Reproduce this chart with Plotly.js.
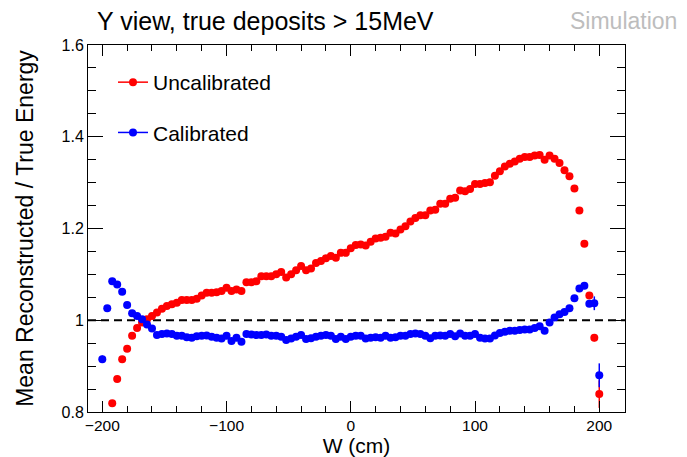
<!DOCTYPE html>
<html>
<head>
<meta charset="utf-8">
<script src="https://cdn.plot.ly/plotly-3.0.1.min.js"></script>
<style>html,body{margin:0;padding:0;background:#fff;}#chart{width:687px;height:457px;}</style>
</head>
<body>
<div id="chart"></div>
<script>
// Bin centres along W (cm)
const wBins = [
  -200,-196,-192,-188,-184,-180,-176,-172,-168,-164,
  -160,-156,-152,-148,-144,-140,-136,-132,-128,-124,
  -120,-116,-112,-108,-104,-100,-96,-92,-88,-84,
  -80,-76,-72,-68,-64,-60,-56,-52,-48,-44,
  -40,-36,-32,-28,-24,-20,-16,-12,-8,-4,
  0,4,8,12,16,20,24,28,32,36,
  40,44,48,52,56,60,64,68,72,76,
  80,84,88,92,96,100,104,108,112,116,
  120,124,128,132,136,140,144,148,152,156,
  160,164,168,172,176,180,184,188,192,196,
  200
];

// Mean reconstructed / true energy, uncalibrated
const uncalibrated = [
  null,null,0.819,0.872,0.915,0.938,0.966,0.983,0.995,1.002,
  1.009,1.017,1.025,1.031,1.035,1.038,1.044,1.044,1.044,1.047,
  1.054,1.060,1.060,1.061,1.064,1.071,1.064,1.067,1.064,1.083,
  1.083,1.085,1.096,1.096,1.096,1.100,1.105,1.093,1.100,1.109,
  1.118,1.109,1.113,1.125,1.129,1.135,1.140,1.136,1.147,1.147,
  1.157,1.164,1.165,1.163,1.171,1.178,1.180,1.182,1.191,1.189,
  1.198,1.205,1.215,1.223,1.229,1.229,1.239,1.241,1.254,1.254,
  1.265,1.267,1.283,1.281,1.286,1.297,1.297,1.299,1.301,1.315,
  1.325,1.335,1.341,1.346,1.352,1.356,1.356,1.359,1.360,1.350,
  1.359,1.352,1.343,1.327,1.314,1.287,1.239,1.167,1.054,0.962,
  0.839
];
const uncalibratedErr = [
  0,0,0,0,0,0,0,0,0,0,
  0,0,0,0,0,0,0,0,0,0,
  0,0,0,0,0,0,0,0,0,0,
  0,0,0,0,0,0,0,0,0,0,
  0,0,0,0,0,0,0,0,0,0,
  0,0,0,0,0,0,0,0,0,0,
  0,0,0,0,0,0,0,0,0,0,
  0,0,0,0,0,0,0,0,0,0,
  0,0,0,0,0,0,0,0,0,0,
  0,0,0,0,0,0,0,0,0.006,0.008,
  0.03
];

// Mean reconstructed / true energy, calibrated
const calibrated = [
  0.915,1.026,1.085,1.078,1.062,1.033,1.015,1.009,1.002,0.991,
  0.982,0.968,0.970,0.971,0.970,0.966,0.966,0.963,0.962,0.965,
  0.966,0.967,0.964,0.962,0.960,0.966,0.955,0.962,0.953,0.970,
  0.969,0.968,0.968,0.969,0.966,0.966,0.964,0.957,0.960,0.964,
  0.968,0.959,0.961,0.964,0.966,0.968,0.966,0.959,0.964,0.959,
  0.964,0.966,0.966,0.960,0.962,0.963,0.962,0.966,0.962,0.963,
  0.966,0.966,0.970,0.971,0.970,0.966,0.961,0.966,0.967,0.966,
  0.970,0.965,0.971,0.966,0.966,0.970,0.962,0.960,0.960,0.967,
  0.972,0.975,0.977,0.977,0.979,0.980,0.980,0.983,0.987,0.977,
  0.995,1.006,1.013,1.018,1.026,1.048,1.069,1.075,1.036,1.037,
  0.880
];
const calibratedErr = [
  0.008,0,0,0,0,0,0,0,0,0,
  0,0,0,0,0,0,0,0,0,0,
  0,0,0,0,0,0,0,0,0,0,
  0,0,0,0,0,0,0,0,0,0,
  0,0,0,0,0,0,0,0,0,0,
  0,0,0,0,0,0,0,0,0,0,
  0,0,0,0,0,0,0,0,0,0,
  0,0,0,0,0,0,0,0,0,0,
  0,0,0,0,0,0,0,0,0,0,
  0,0,0,0,0,0,0,0,0.006,0.015,
  0.026
];

const seriesNames = ['Uncalibrated', 'Calibrated'];
const xTitle = 'W (cm)';
const yTitle = 'Mean Reconstructed / True Energy';
const chartTitle = 'Y view, true deposits > 15MeV';
const stamp = 'Simulation';
const reference = 1.0;

const RED = '#ff0000', BLUE = '#0000ff';
const FONT = 'Liberation Sans, Arial, Helvetica, sans-serif';

function dataTrace(y, err, color, name) {
  return {
    x: wBins, y: y, type: 'scatter', mode: 'markers', name: name,
    showlegend: false, cliponaxis: true,
    marker: {color: color, size: 8, symbol: 'circle'},
    error_y: {type: 'data', array: err, visible: true, color: color, thickness: 1.5, width: 0}
  };
}
function legendTrace(color, name, group) {
  return {
    x: [null], y: [null], type: 'scatter', mode: 'lines+markers', name: name,
    legendgroup: group, showlegend: true,
    marker: {color: color, size: 8}, line: {color: color, width: 1.5}
  };
}

const traces = [
  dataTrace(uncalibrated, uncalibratedErr, RED, seriesNames[0]),
  dataTrace(calibrated, calibratedErr, BLUE, seriesNames[1]),
  legendTrace(RED, seriesNames[0], 'a'),
  legendTrace(BLUE, seriesNames[1], 'b')
];

const layout = {
  width: 687, height: 457,
  margin: {l: 88, r: 62, t: 45, b: 45},
  paper_bgcolor: '#ffffff', plot_bgcolor: '#ffffff',
  font: {family: FONT, color: '#000000', size: 16},
  title: {text: chartTitle, font: {size: 25, color: '#000000'},
          x: 97/687, xanchor: 'left', xref: 'container',
          y: 1 - 21/457, yanchor: 'middle', yref: 'container'},
  xaxis: {
    range: [-211.5, 220.7], tick0: 0, dtick: 100,
    ticks: 'inside', ticklen: 11, tickwidth: 1, tickcolor: '#000',
    minor: {dtick: 20, ticks: 'inside', ticklen: 6, tickwidth: 1, tickcolor: '#000', showgrid: false},
    showline: true, linecolor: '#000', linewidth: 1, mirror: 'allticks',
    showgrid: false, zeroline: false,
    tickfont: {size: 15.5}, ticklabelstandoff: -1,
    title: {text: xTitle, font: {size: 21}, standoff: 6}
  },
  yaxis: {
    range: [0.8, 1.6], tick0: 0.8, dtick: 0.2,
    ticks: 'inside', ticklen: 15, tickwidth: 1, tickcolor: '#000',
    minor: {dtick: 0.05, ticks: 'inside', ticklen: 8, tickwidth: 1, tickcolor: '#000', showgrid: false},
    showline: true, linecolor: '#000', linewidth: 1, mirror: 'allticks',
    showgrid: false, zeroline: false,
    tickfont: {size: 16},
    title: {text: yTitle, font: {size: 23}, standoff: 21}
  },
  shapes: [{
    type: 'line', xref: 'paper', x0: 0, x1: 1, yref: 'y', y0: reference, y1: reference,
    line: {color: '#000', width: 2, dash: '8px,5px'}, layer: 'below'
  }],
  annotations: [{
    text: stamp, xref: 'paper', yref: 'paper', x: (679-88)/537, y: (412-21)/367,
    xanchor: 'right', yanchor: 'middle', showarrow: false,
    font: {size: 23, color: '#bdbdbd'}
  }],
  legend: {
    x: (113-88)/537, y: (412-62)/367, xanchor: 'left', yanchor: 'top',
    bgcolor: 'rgba(0,0,0,0)', borderwidth: 0,
    font: {size: 21}, traceorder: 'grouped', tracegroupgap: 20
  },
  showlegend: true
};

Plotly.newPlot('chart', traces, layout, {displayModeBar: false, staticPlot: true});
</script>
</body>
</html>
